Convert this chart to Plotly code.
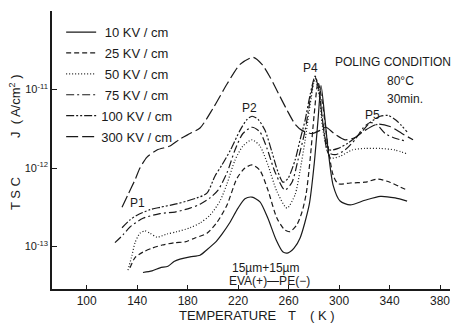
import plotly.graph_objects as go

# ---- data: temperature (K) and log10 of TSC current density J (A/cm^2) ----
t_10 = [144.6,151.8,158.1,164.4,169.2,173.9,181.9,189.8,195.3,201.7,207.2,213.6,219.9,225.4,231.0,237.3,243.6,250.0,255.6,259.6,264.3,269.1,276.3,280.2,283.3,285.7,288.9,291.3,295.3,300.8,308.8,320.5,332.6,344.4,353.9]
logj_10 = [-13.33,-13.31,-13.27,-13.25,-13.19,-13.16,-13.13,-13.11,-13.04,-12.95,-12.84,-12.69,-12.51,-12.39,-12.37,-12.43,-12.64,-12.91,-13.07,-13.08,-13.02,-12.89,-12.47,-11.96,-11.39,-10.95,-11.39,-11.77,-12.22,-12.42,-12.47,-12.41,-12.36,-12.38,-12.42]

t_25 = [134.3,138.3,144.6,151.8,159.7,170.0,177.9,185.8,195.3,203.3,211.2,219.1,225.4,231.0,237.3,243.6,250.8,257.1,261.1,266.6,270.6,273.8,277.0,280.2,283.3,286.5,290.5,295.3,299.3,308.8,320.5,330.8,340.3,348.3,353.9]
logj_25 = [-13.27,-13.14,-13.07,-13.02,-12.98,-12.95,-12.94,-12.89,-12.83,-12.69,-12.47,-12.13,-12.00,-11.96,-12.03,-12.28,-12.64,-12.79,-12.81,-12.72,-12.56,-12.34,-11.90,-11.33,-10.91,-11.14,-11.64,-12.09,-12.20,-12.19,-12.18,-12.14,-12.18,-12.24,-12.28]

t_50 = [132.7,135.9,138.3,142.2,146.2,150.2,155.7,163.6,171.6,181.9,189.8,197.7,205.6,211.2,217.5,223.8,231.0,237.3,243.6,250.8,258.7,265.1,269.1,273.1,277.0,281.0,284.2,287.3,292.9,300.8,310.3,320.5,332.6,344.4,353.9]
logj_50 = [-13.30,-13.11,-12.95,-12.83,-12.80,-12.83,-12.88,-12.84,-12.81,-12.76,-12.70,-12.60,-12.42,-12.20,-11.90,-11.72,-11.64,-11.72,-11.96,-12.30,-12.51,-12.34,-12.03,-11.64,-11.20,-10.86,-11.07,-11.52,-11.87,-11.85,-11.77,-11.75,-11.75,-11.77,-11.82]

t_75 = [122.4,128.8,134.3,144.6,158.1,170.0,181.9,189.8,197.7,204.1,211.2,217.5,223.8,231.0,237.3,242.9,249.2,257.1,262.7,267.4,273.1,277.0,281.0,284.2,287.3,291.3,296.8,304.7,312.6,319.0,324.6,330.1,336.5,344.4,353.9]
logj_75 = [-12.95,-12.85,-12.75,-12.64,-12.58,-12.56,-12.51,-12.46,-12.38,-12.28,-12.06,-11.77,-11.56,-11.48,-11.54,-11.75,-12.05,-12.28,-12.18,-11.90,-11.52,-11.14,-10.84,-11.03,-11.45,-11.80,-11.83,-11.77,-11.64,-11.49,-11.42,-11.45,-11.56,-11.62,-11.66]

t_100 = [128.0,134.3,139.9,150.2,158.1,170.0,179.5,187.4,195.3,201.7,207.2,213.6,221.5,227.1,231.0,235.8,241.3,246.9,251.6,255.6,259.6,265.1,269.1,273.1,277.0,281.0,284.2,286.6,289.8,292.9,299.3,307.2,316.7,324.6,332.6,338.9,345.2,353.9]
logj_100 = [-12.76,-12.66,-12.60,-12.53,-12.50,-12.46,-12.42,-12.38,-12.32,-12.10,-11.96,-11.78,-11.52,-11.38,-11.34,-11.38,-11.52,-11.80,-12.05,-12.18,-12.13,-11.90,-11.64,-11.39,-11.07,-10.83,-11.01,-11.36,-11.68,-11.77,-11.75,-11.68,-11.56,-11.42,-11.34,-11.33,-11.39,-11.54]

t_300 = [128.0,132.7,138.3,142.2,147.8,155.7,166.0,173.9,181.9,189.8,200.1,211.2,221.5,231.8,238.9,245.2,253.2,258.7,265.1,270.6,278.5,284.9,289.6,296.0,304.7,312.6,320.5,330.8,340.3,349.8,358.6]
logj_300 = [-12.50,-12.34,-12.15,-12.00,-11.86,-11.77,-11.72,-11.63,-11.56,-11.49,-11.24,-10.93,-10.68,-10.59,-10.68,-10.84,-11.09,-11.26,-11.44,-11.52,-11.56,-11.52,-11.48,-11.56,-11.64,-11.61,-11.52,-11.44,-11.47,-11.56,-11.64]

series_names = [" 10 KV / cm", " 25 KV / cm", " 50 KV / cm", " 75 KV / cm", "100 KV / cm", "300 KV / cm"]
series_t = [t_10, t_25, t_50, t_75, t_100, t_300]
series_logj = [logj_10, logj_25, logj_50, logj_75, logj_100, logj_300]
dashes = ["solid", "5px,3px", "1px,2px", "8px,3px,2px,3px", "8px,2px,2px,2px,2px,2px", "12px,4px"]

x_ticks = [100, 140, 180, 220, 260, 300, 340, 380]
y_ticks = [1e-13, 1e-12, 1e-11]
y_ticktext = ["10<sup>-13</sup>", "10<sup>-12</sup>", "10<sup>-11</sup>"]

FONT = "Liberation Sans"
INK = "#1a1a1a"

fig = go.Figure()
for i, (name, tt, lj, d) in enumerate(zip(series_names, series_t, series_logj, dashes)):
    fig.add_trace(go.Scatter(
        x=tt, y=[10 ** v for v in lj], mode="lines", name=name,
        legendgroup="g%d" % i,
        line=dict(color=INK, width=1.2, dash=d, shape="spline", smoothing=0.7),
    ))

fig.update_layout(
    width=453, height=323,
    margin=dict(l=52, r=3, t=11, b=34),
    paper_bgcolor="white", plot_bgcolor="white",
    font=dict(family=FONT, size=12, color=INK),
    showlegend=True,
    legend=dict(x=0.023, y=0.978, xanchor="left", yanchor="top",
                bgcolor="rgba(0,0,0,0)", borderwidth=0,
                traceorder="grouped", tracegroupgap=1,
                font=dict(family=FONT, size=13, color=INK)),
    xaxis=dict(range=[72.5, 387.9], tickmode="array", tickvals=x_ticks,
               ticks="inside", ticklen=4, tickwidth=1.2, tickcolor=INK,
               showline=True, linecolor=INK, linewidth=1.5, showgrid=False,
               zeroline=False, tickfont=dict(size=12)),
    yaxis=dict(type="log", range=[-13.54, -10.0], tickmode="array",
               tickvals=y_ticks, ticktext=y_ticktext,
               ticks="inside", ticklen=5, tickwidth=1.2, tickcolor=INK,
               showline=True, linecolor=INK, linewidth=1.5, showgrid=False,
               zeroline=False, tickfont=dict(size=11)),
)

# in-plot labels (data coordinates)
labels = [
    ("P1", 139.9, -12.44, "center"),
    ("P2", 229.4, -11.24, "center"),
    ("P4", 277.0, -10.72, "center"),
    ("P5", 326.1, -11.33, "center"),
    ("15µm+15µm", 242.1, -13.27, "center"),
    ("EVA(+)—PE(−)", 244.9, -13.44, "center"),
    ("POLING CONDITION", 295.2, -10.65, "left"),
    ("80°C", 336.4, -10.89, "left"),
    ("30min.", 336.4, -11.12, "left"),
]
for text, xv, yv, anc in labels:
    fig.add_annotation(text=text, x=xv, y=yv, xref="x", yref="y",
                       xanchor=anc, yanchor="middle",
                       showarrow=False, font=dict(size=12))

# axis titles, placed by pixel position in the 453x323 frame
def px(xp):
    return (xp - 52) / 398.0

def py(yp):
    return (289 - yp) / 278.0

for text, xp in [("TEMPERATURE", 228), ("T", 292), ("( K )", 322)]:
    fig.add_annotation(text=text, x=px(xp), y=py(315), xref="paper", yref="paper",
                       xanchor="center", yanchor="middle",
                       showarrow=False, font=dict(size=13))

fig.add_annotation(text="T S C", x=px(15), y=py(194), xref="paper", yref="paper",
                   xanchor="center", yanchor="middle",
                   textangle=-90, showarrow=False, font=dict(size=13))
fig.add_annotation(text="J  ( A/cm<sup>2</sup> )", x=px(15), y=py(106), xref="paper",
                   yref="paper", xanchor="center", yanchor="middle",
                   textangle=-90, showarrow=False, font=dict(size=13))

fig.write_html("out.html")
